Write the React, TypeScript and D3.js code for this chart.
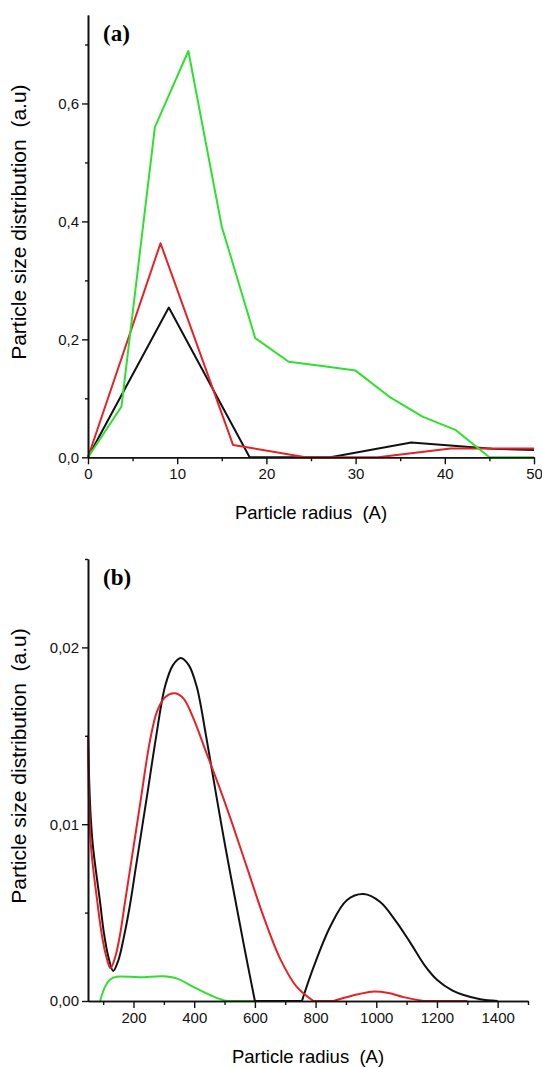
import * as d3 from "d3";
import { useEffect, useRef } from "react";

const W = 542;
const H = 1068;

// ---- panel (a) data
const aBlackX = [0, 9.06, 18.12, 27.18, 36.24, 45.3, 50];
const aBlackY = [0, 0.254, 0, 0, 0.025, 0.0145, 0.0125];
const aRedX = [0, 8.13, 16.26, 24.39, 32.52, 40.65, 48.78, 50];
const aRedY = [0, 0.363, 0.021, 0, 0, 0.015, 0.015, 0.015];
const aGreenX = [0, 3.75, 7.5, 11.25, 15, 18.75, 22.5, 26.25, 30, 33.75, 37.5, 41.25, 45, 48.75, 50];
const aGreenY = [0, 0.086, 0.56, 0.689, 0.391, 0.202, 0.162, 0.155, 0.147, 0.103, 0.069, 0.046, 0, 0, 0];
const aXTicks = [0, 10, 20, 30, 40, 50];
const aXMinor = [5, 15, 25, 35, 45];
const aYTicks = [0, 0.2, 0.4, 0.6];
const aYMinor = [0.1, 0.3, 0.5, 0.7];

// ---- panel (b) data
const bBlackX = [50, 54, 59, 66, 75, 89, 102, 117, 133, 150, 168, 188, 208, 229, 249, 274, 304, 330, 356, 382, 408, 439, 474, 505, 540, 570, 600, 680, 755, 793, 848, 903, 958, 1013, 1065, 1112, 1160, 1200, 1250, 1288, 1343, 1400];
const bBlackY = [0.015, 0.0124, 0.0104, 0.0088, 0.0075, 0.0057, 0.0039, 0.0025, 0.0017, 0.0023, 0.0036, 0.0054, 0.0076, 0.0099, 0.0121, 0.0149, 0.0178, 0.019, 0.0194, 0.019, 0.0178, 0.015, 0.0115, 0.0085, 0.0053, 0.0026, 0, 0, 0, 0.0019, 0.0042, 0.0057, 0.00605, 0.0056, 0.0045, 0.0033, 0.002, 0.0012, 0.0006, 0.00034, 0.0001, 0];
const bRedX = [50, 52, 55, 60, 67, 80, 95, 109, 124, 140, 155, 172, 190, 208, 224, 254, 278, 305, 337, 365, 397, 441, 485, 524, 573, 628, 683, 738, 793, 859, 920, 986, 1040, 1090, 1156, 1300];
const bRedY = [0.015, 0.0125, 0.0104, 0.0087, 0.0075, 0.0057, 0.0038, 0.0026, 0.00185, 0.0025, 0.0037, 0.0056, 0.0076, 0.0096, 0.0114, 0.0147, 0.0164, 0.0172, 0.0174, 0.0171, 0.016, 0.014, 0.012, 0.0101, 0.0076, 0.0048, 0.0024, 0.0008, 0, 0, 0.0003, 0.00053, 0.00045, 0.00022, 0, 0];
const bGreenX = [90, 106, 122, 144, 221, 298, 342, 397, 452, 496, 540, 600];
const bGreenY = [0, 0.0008, 0.0012, 0.00137, 0.00134, 0.0014, 0.00128, 0.0008, 0.00034, 0.00005, 0, 0];
const bXTicks = [200, 400, 600, 800, 1000, 1200, 1400];
const bXMinor = [100, 300, 500, 700, 900, 1100, 1300, 1500];
const bYTicks = [0, 0.01, 0.02];
const bYMinor = [0.005, 0.015, 0.025];

const BLACK = "#111";
const RED = "#e52228";
const GREEN = "#2fe02f";
const FONT = "'Liberation Sans', Arial, sans-serif";

type Pt = [number, number];

function zip(xs: number[], ys: number[]): Pt[] {
  return xs.map((x, i) => [x, ys[i]] as Pt);
}

// split a series where it runs flat along zero, so the smooth curve never dips below the axis
function splitAtZero(pts: Pt[]): Pt[][] {
  const runs: Pt[][] = [];
  let cur: Pt[] = [pts[0]];
  for (let i = 1; i < pts.length; i++) {
    const flat = pts[i - 1][1] === 0 && pts[i][1] === 0;
    if (flat) {
      if (cur.length > 1) runs.push(cur);
      runs.push([pts[i - 1], pts[i]]);
      cur = [pts[i]];
    } else {
      cur.push(pts[i]);
    }
  }
  if (cur.length > 1) runs.push(cur);
  return runs;
}

function drawPanel(svg: any, p: any) {
  const x = d3.scaleLinear().domain(p.xDomain).range([p.left, p.right]);
  const y = d3.scaleLinear().domain(p.yDomain).range([p.bottom, p.top]);
  const g = svg.append("g");

  const styleAxis = (sel: any) => {
    sel.attr("font-family", FONT).attr("font-size", 15);
    sel.select(".domain").attr("stroke", BLACK).attr("stroke-width", 1.6);
    sel.selectAll(".tick line").attr("stroke", BLACK).attr("stroke-width", 1.4);
    sel.selectAll(".tick text").attr("fill", BLACK);
  };

  const line = d3.line<Pt>()
    .x(d => x(d[0]))
    .y(d => y(d[1]))
    .curve(p.curve);

  p.series.forEach((s: any) => {
    const runs = p.split ? splitAtZero(zip(s.x, s.y)) : [zip(s.x, s.y)];
    g.append("path")
      .attr("fill", "none")
      .attr("stroke", s.color)
      .attr("stroke-width", 2)
      .attr("stroke-linejoin", "round")
      .attr("d", runs.map(r => line(r)).join(""));
  });

  // minor ticks (no labels)
  g.append("g")
    .attr("transform", `translate(0,${p.bottom})`)
    .call(d3.axisBottom(x).tickValues(p.xMinor).tickSize(4).tickSizeOuter(0).tickFormat(() => ""))
    .call(styleAxis);
  g.append("g")
    .attr("transform", `translate(${p.left},0)`)
    .call(d3.axisLeft(y).tickValues(p.yMinor).tickSize(3).tickSizeOuter(0).tickFormat(() => ""))
    .call(styleAxis);

  g.append("g")
    .attr("transform", `translate(0,${p.bottom})`)
    .call(d3.axisBottom(x).tickValues(p.xTicks).tickSize(7).tickSizeOuter(0).tickPadding(4).tickFormat(d3.format("d")))
    .call(styleAxis);
  g.append("g")
    .attr("transform", `translate(${p.left},0)`)
    .call(d3.axisLeft(y).tickValues(p.yTicks).tickSize(6).tickSizeOuter(0).tickPadding(3)
      .tickFormat((d: any) => d.toFixed(p.yDigits).replace(".", ",")))
    .call(styleAxis);

  // panel letter
  g.append("text")
    .attr("x", p.left + 15)
    .attr("y", p.top + 26)
    .attr("font-family", "'Liberation Serif', 'Times New Roman', serif")
    .attr("font-weight", "bold")
    .attr("font-size", 23)
    .text(p.letter);

  // axis titles
  g.append("text")
    .attr("x", (p.left + p.right) / 2)
    .attr("y", p.bottom + 62)
    .attr("text-anchor", "middle")
    .attr("font-family", FONT)
    .attr("font-size", 18.5)
    .style("white-space", "pre")
    .text("Particle radius  (A)");

  g.append("text")
    .attr("transform", `translate(26,${(p.top + p.bottom) / 2 - 14}) rotate(-90)`)
    .attr("text-anchor", "middle")
    .attr("font-family", FONT)
    .attr("font-size", 21)
    .style("white-space", "pre")
    .text("Particle size distribution  (a.u)");
}

export default function App() {
  const ref = useRef<SVGSVGElement>(null);

  useEffect(() => {
    const svg = d3.select(ref.current);
    svg.selectAll("*").remove();

    drawPanel(svg, {
      left: 88, right: 534, top: 15, bottom: 457.3,
      xDomain: [0, 50], yDomain: [0, 0.75],
      xTicks: aXTicks, xMinor: aXMinor, yTicks: aYTicks, yMinor: aYMinor,
      yDigits: 1, letter: "(a)", curve: d3.curveLinear, split: false,
      series: [
        { x: aBlackX, y: aBlackY, color: BLACK },
        { x: aRedX, y: aRedY, color: RED },
        { x: aGreenX, y: aGreenY, color: GREEN },
      ],
    });

    drawPanel(svg, {
      left: 88, right: 528, top: 559, bottom: 1001,
      xDomain: [50, 1500], yDomain: [0, 0.025],
      xTicks: bXTicks, xMinor: bXMinor, yTicks: bYTicks, yMinor: bYMinor,
      yDigits: 2, letter: "(b)", curve: d3.curveCatmullRom.alpha(0.5), split: true,
      series: [
        { x: bGreenX, y: bGreenY, color: GREEN },
        { x: bBlackX, y: bBlackY, color: BLACK },
        { x: bRedX, y: bRedY, color: RED },
      ],
    });
  }, []);

  return (
    <svg
      ref={ref}
      width={W}
      height={H}
      style={{ position: "absolute", left: 0, top: 0, background: "#fff" }}
    />
  );
}
